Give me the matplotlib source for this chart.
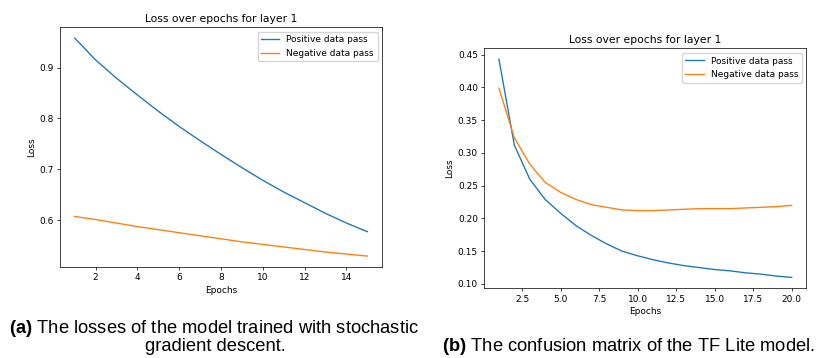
import numpy as np
import matplotlib
matplotlib.use("Agg")
import matplotlib.pyplot as plt

# (a) SGD run, 15 epochs
epochs_a = list(range(1, 16))
pos_a = [0.958, 0.915, 0.879, 0.846, 0.814, 0.784, 0.756, 0.729,
         0.703, 0.678, 0.655, 0.634, 0.613, 0.594, 0.577]
neg_a = [0.607, 0.601, 0.594, 0.587, 0.581, 0.575, 0.569, 0.563,
         0.557, 0.552, 0.547, 0.542, 0.537, 0.533, 0.529]

# (b) TF Lite run, 20 epochs
epochs_b = list(range(1, 21))
pos_b = [0.443, 0.312, 0.260, 0.229, 0.208, 0.189, 0.174, 0.161, 0.150, 0.143,
         0.137, 0.132, 0.128, 0.125, 0.122, 0.120, 0.117, 0.115, 0.112, 0.110]
neg_b = [0.399, 0.323, 0.283, 0.255, 0.240, 0.229, 0.221, 0.217, 0.213, 0.212,
         0.212, 0.213, 0.214, 0.215, 0.215, 0.215, 0.216, 0.217, 0.218, 0.220]

title = "Loss over epochs for layer 1"
labels = ["Positive data pass", "Negative data pass"]

s = 0.649  # the sub-plots are shrunk default matplotlib figures
plt.rcParams["font.size"] = 10 * s
plt.rcParams["axes.linewidth"] = 0.8 * s
plt.rcParams["xtick.major.size"] = 3.5 * s
plt.rcParams["ytick.major.size"] = 3.5 * s
plt.rcParams["xtick.major.width"] = 0.8 * s
plt.rcParams["ytick.major.width"] = 0.8 * s
plt.rcParams["xtick.major.pad"] = 3.5 * s
plt.rcParams["ytick.major.pad"] = 3.5 * s
plt.rcParams["axes.titlepad"] = 6 * s
plt.rcParams["axes.labelpad"] = 4 * s
plt.rcParams["lines.linewidth"] = 1.5 * s
# captions use Arial-like font, bold part via mathtext
plt.rcParams["mathtext.fontset"] = "custom"
plt.rcParams["mathtext.rm"] = "Liberation Sans"
plt.rcParams["mathtext.bf"] = "Liberation Sans:bold"

fig = plt.figure(figsize=(8.3, 3.58), dpi=100)
ax1 = fig.add_axes([0.0723, 0.2542, 0.388, 0.670])
ax2 = fig.add_axes([0.5835, 0.1947, 0.388, 0.670])

for ax, x, p, n in [(ax1, epochs_a, pos_a, neg_a), (ax2, epochs_b, pos_b, neg_b)]:
    ax.plot(x, p, label=labels[0])
    ax.plot(x, n, label=labels[1])
    ax.set_title(title, fontsize=12 * s)
    ax.set_xlabel("Epochs")
    ax.set_ylabel("Loss")
    ax.legend(loc="upper right")

cap = dict(family="Liberation Sans", fontsize=13.2, ha="center", va="baseline")
fig.text(214 / 830, 1 - 333 / 358, r"$\bf{(a)}$ The losses of the model trained with stochastic", **cap)
fig.text(215 / 830, 1 - 351 / 358, "gradient descent.", **cap)
fig.text(628 / 830, 1 - 351 / 358, r"$\bf{(b)}$ The confusion matrix of the TF Lite model.", **cap)

plt.savefig("out.png", dpi=100)
